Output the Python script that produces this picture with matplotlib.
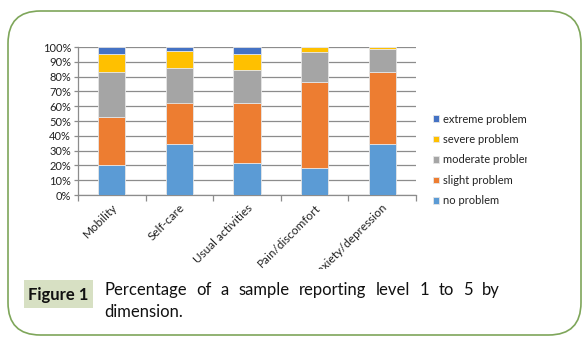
import matplotlib.pyplot as plt
from matplotlib.patches import FancyBboxPatch, Rectangle
from matplotlib.transforms import Bbox
import numpy as np

plt.rcParams['font.family'] = ['Lato', 'DejaVu Sans']

dimensions = ["Mobility", "Self-care", "Usual activities", "Pain/discomfort", "Anxiety/depression"]
levels = ["no problem", "slight problem", "moderate problem", "severe problem", "extreme problem"]
colors = ["#5b9bd5", "#ed7d31", "#a5a5a5", "#ffc000", "#4472c4"]

# percentage of respondents per level, one list per level
no_problem = [20.0, 34.3, 21.7, 18.5, 34.3]
slight_problem = [33.0, 28.2, 40.8, 58.0, 48.5]
moderate_problem = [30.0, 23.5, 21.9, 20.3, 15.8]
severe_problem = [12.3, 11.0, 11.1, 3.2, 1.4]
extreme_problem = [4.7, 3.0, 4.5, 0.0, 0.0]

series = [no_problem, slight_problem, moderate_problem, severe_problem, extreme_problem]

W, H = 588, 346
fig = plt.figure(figsize=(W / 100, H / 100), dpi=100)
fig.patch.set_facecolor("white")

# rounded frame around the whole figure
frame = FancyBboxPatch((8 / W, (H - 335) / H), (581 - 8) / W, (335 - 11) / H,
                       boxstyle="round,pad=0,rounding_size=0.055",
                       transform=fig.transFigure, facecolor="none",
                       edgecolor="#7ea65a", linewidth=1.2, mutation_aspect=W / H)
fig.patches.append(frame)

ax = fig.add_axes([78 / W, (H - 195) / H, (416 - 78) / W, (195 - 47) / H])
x = np.arange(len(dimensions))
bottom = np.zeros(len(dimensions))
handles = []
for vals, lab, col in zip(series, levels, colors):
    b = ax.bar(x, vals, 0.4, bottom=bottom, color=col, edgecolor="#e6e6e6",
               linewidth=0.6, label=lab, zorder=3)
    handles.append(b)
    bottom += np.array(vals)

ax.set_xlim(-0.5, len(dimensions) - 0.5)
ax.set_ylim(0, 100)
ax.set_yticks(np.arange(0, 101, 10))
ax.set_yticklabels([f"{v}%" for v in range(0, 101, 10)], fontsize=8, color="#222222")
ax.yaxis.grid(True, color="#8c8c8c", linewidth=0.9, zorder=0)
ax.tick_params(axis="y", length=3, width=0.9, color="#8c8c8c", pad=2)

ax.set_xticks(np.arange(-0.5, len(dimensions), 1.0))
ax.set_xticklabels([])
ax.tick_params(axis="x", length=4, width=0.9, color="#8c8c8c", direction="out")
for s in ["top", "right"]:
    ax.spines[s].set_visible(False)
for s in ["left", "bottom"]:
    ax.spines[s].set_color("#8c8c8c")
    ax.spines[s].set_linewidth(0.9)

# category labels, clipped at the bottom of the chart area
clip = Bbox.from_extents(0, H - 269, W, H)
for xi, name in zip(x, dimensions):
    t = ax.annotate(name, xy=(xi, 0), xycoords="data", xytext=(0, -5),
                    textcoords="offset points", rotation=45, ha="right", va="top",
                    rotation_mode="anchor", fontsize=8.5, color="#222222",
                    annotation_clip=False)
    t.set_clip_box(clip)
    t.set_clip_on(True)

leg = fig.legend(handles[::-1], levels[::-1], loc="upper left",
                 bbox_to_anchor=(427 / W, (H - 108) / H), frameon=False,
                 fontsize=8, handlelength=0.55, handleheight=0.55,
                 handletextpad=0.4, labelspacing=0.85, borderpad=0)
legclip = Bbox.from_extents(0, 0, 527, H)
for txt in leg.get_texts():
    txt.set_color("#222222")
    txt.set_clip_box(legclip)
    txt.set_clip_on(True)

# caption
fig.patches.append(Rectangle((24 / W, (H - 308) / H), 69 / W, 28 / H,
                             transform=fig.transFigure, facecolor="#d7e0c3",
                             edgecolor="none"))
fig.text(58.5 / W, (H - 300) / H, "Figure 1", ha="center", va="baseline",
         fontsize=12, fontweight="bold", color="#111111")

line1 = "Percentage of a sample reporting level 1 to 5 by".split()
x0, x1 = 104, 500
fig.canvas.draw()
r = fig.canvas.get_renderer()
words = []
for w in line1:
    t = fig.text(0, (H - 295) / H, w, fontsize=12, color="#111111", va="baseline")
    words.append((t, t.get_window_extent(r).width))
gap = (x1 - x0 - sum(wd for _, wd in words)) / (len(words) - 1)
pos = x0
for t, wd in words:
    t.set_x(pos / W)
    pos += wd + gap
fig.text(x0 / W, (H - 317) / H, "dimension.", fontsize=12, color="#111111", va="baseline")

fig.savefig("out.png", dpi=100, facecolor="white")
